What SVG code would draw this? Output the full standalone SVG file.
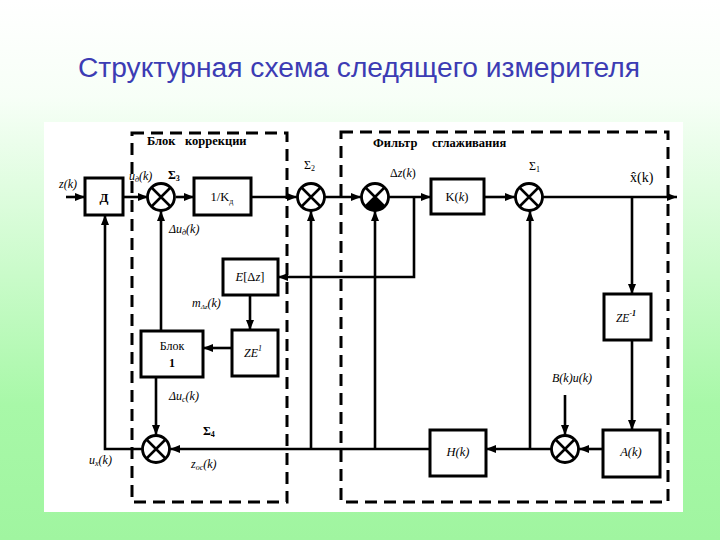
<svg xmlns="http://www.w3.org/2000/svg" xmlns:xlink="http://www.w3.org/1999/xlink" width="720" height="540" viewBox="0 0 720 540">
<defs>
<linearGradient id="bg" x1="0" y1="0" x2="0" y2="1">
<stop offset="0" stop-color="#ffffff"/>
<stop offset="0.18" stop-color="#f7fff7"/>
<stop offset="0.75" stop-color="#a8f8a8"/>
<stop offset="1" stop-color="#a0f5a0"/>
</linearGradient>
<marker id="ar" markerUnits="userSpaceOnUse" markerWidth="10" markerHeight="8" refX="10" refY="4" orient="auto">
<path d="M0,0 L10,4 L0,8 Z" fill="#000"/>
</marker>
<g id="sum">
<circle r="13.5" fill="#fff" stroke="#000" stroke-width="2.8"/>
<path d="M-9.5,-9.5 L9.5,9.5 M-9.5,9.5 L9.5,-9.5" stroke="#000" stroke-width="2.5"/>
</g>
<style>
.box{fill:#fff;stroke:#000;stroke-width:3}
.dash{fill:none;stroke:#000;stroke-width:3;stroke-dasharray:12 7}
.arr{fill:none;stroke:#000;stroke-width:2.6;marker-end:url(#ar)}
.lbl{font-family:"Liberation Serif",serif;font-style:italic;font-size:12px;fill:#000}
.bt{font-family:"Liberation Serif",serif;font-size:12.5px;fill:#000;text-anchor:middle}
.hd{font-family:"Liberation Serif",serif;font-weight:bold;font-size:12.5px;fill:#000}
.sg{font-family:"Liberation Serif",serif;font-size:12px;fill:#000}
.title{font-family:"Liberation Sans",Arial,sans-serif;font-size:27px;fill:#3c3cb4}
</style>
</defs>
<rect x="0" y="0" width="720" height="540" fill="url(#bg)"/>
<rect x="44" y="122" width="639" height="390" fill="#fff"/>
<text class="title" x="78" y="77" textLength="562" lengthAdjust="spacingAndGlyphs">Структурная схема следящего измерителя</text>

<g id="regions">
<rect class="dash" x="132" y="133" width="155" height="369"/>
<rect class="dash" x="341" y="132" width="327" height="370"/>
<text class="hd" y="145"><tspan x="147">Блок</tspan><tspan x="185">коррекции</tspan></text>
<text class="hd" y="147"><tspan x="373">Фильтр</tspan><tspan x="432">сглаживания</tspan></text>
</g>

<g id="connectors">
<line class="arr" x1="66" y1="197" x2="85" y2="197"/>
<line class="arr" x1="123" y1="197" x2="148" y2="197"/>
<line class="arr" x1="176" y1="197" x2="194" y2="197"/>
<line class="arr" x1="251" y1="197" x2="297" y2="197"/>
<line class="arr" x1="325" y1="197" x2="361" y2="197"/>
<line class="arr" x1="389" y1="197" x2="431" y2="197"/>
<line class="arr" x1="484" y1="197" x2="515" y2="197"/>
<line class="arr" x1="543" y1="197" x2="677" y2="197"/>
<line class="arr" x1="632" y1="197" x2="632" y2="294"/>
<line class="arr" x1="632" y1="340" x2="632" y2="430"/>
<line class="arr" x1="603" y1="449" x2="579" y2="449"/>
<line class="arr" x1="565" y1="395" x2="565" y2="435"/>
<line class="arr" x1="551" y1="449" x2="486" y2="449"/>
<line class="arr" x1="530" y1="449" x2="530" y2="211"/>
<line class="arr" x1="430" y1="449" x2="170" y2="449"/>
<line class="arr" x1="375" y1="449" x2="375" y2="211"/>
<line class="arr" x1="311" y1="449" x2="311" y2="211"/>
<polyline class="arr" points="414,197 414,277 278,277"/>
<line class="arr" x1="250" y1="295" x2="250" y2="330"/>
<line class="arr" x1="232" y1="348" x2="203" y2="348"/>
<line class="arr" x1="161" y1="331" x2="161" y2="211"/>
<line class="arr" x1="156" y1="377" x2="156" y2="435"/>
<polyline class="arr" points="142,449 105,449 105,215"/>
</g>

<g id="D"><rect class="box" x="85" y="178" width="38" height="37"/><text class="bt" x="104" y="202" style="font-weight:bold;font-size:13px">Д</text></g>
<g id="S3"><use xlink:href="#sum" x="161" y="197"/></g>
<g id="invK"><rect class="box" x="194" y="178" width="57" height="37"/><text class="bt" x="222" y="201">1/K<tspan font-size="8" dy="3">д</tspan></text></g>
<g id="S2"><use xlink:href="#sum" x="311" y="197"/></g>
<g id="Sf"><use xlink:href="#sum" x="375" y="197"/><path d="M375,197 L365.5,206.5 A13.5,13.5 0 0 0 384.5,206.5 Z" fill="#000"/></g>
<g id="K"><rect class="box" x="431" y="179" width="53" height="35"/><text class="bt" x="457" y="201">K(<tspan font-style="italic">k</tspan>)</text></g>
<g id="S1"><use xlink:href="#sum" x="529" y="197"/></g>
<g id="ZE2"><rect class="box" x="604" y="294" width="47" height="46"/><text class="bt" x="626" y="322" style="font-style:italic;font-size:11.5px">ZE<tspan font-size="8" dy="-6" font-weight="bold">-1</tspan></text></g>
<g id="A"><rect class="box" x="603" y="430" width="57" height="47"/><text class="bt" x="631" y="456" style="font-style:italic">A(k)</text></g>
<g id="S5"><use xlink:href="#sum" x="565" y="449"/></g>
<g id="H"><rect class="box" x="430" y="430" width="56" height="46"/><text class="bt" x="458" y="456" style="font-style:italic">H(k)</text></g>
<g id="S4"><use xlink:href="#sum" x="156" y="449"/></g>
<g id="E"><rect class="box" x="223" y="259" width="55" height="36"/><text class="bt" x="250" y="281"><tspan font-style="italic">E</tspan>[Δ<tspan font-style="italic">z</tspan>]</text></g>
<g id="ZE1"><rect class="box" x="232" y="330" width="46" height="46"/><text class="bt" x="253" y="357" style="font-style:italic;font-size:12px">ZE<tspan font-size="8" dy="-6">1</tspan></text></g>
<g id="B1"><rect class="box" x="141" y="331" width="62" height="46"/><text class="bt" x="172" y="350" style="font-size:12px">Блок</text><text class="bt" x="172" y="367" style="font-size:12px;font-weight:bold">1</text></g>

<g id="labels">
<text class="lbl" x="59" y="188">z(k)</text>
<text class="lbl" x="129" y="180">u<tspan font-size="8" dy="2">д</tspan><tspan dy="-2">(k)</tspan></text>
<text class="sg" x="168" y="179" style="font-weight:bold">Σ<tspan font-size="8" dy="2">3</tspan></text>
<text class="lbl" x="169" y="233">Δu<tspan font-size="8" dy="2">д</tspan><tspan dy="-2">(k)</tspan></text>
<text class="sg" x="304" y="169">Σ<tspan font-size="8" dy="2">2</tspan></text>
<text class="lbl" x="390" y="177" style="font-style:normal">Δ<tspan font-style="italic">z</tspan>(<tspan font-style="italic">k</tspan>)</text>
<text class="sg" x="529" y="170">Σ<tspan font-size="8" dy="2">1</tspan></text>
<text class="sg" x="630" y="182" style="font-size:14px">x̂(k)</text>
<text class="lbl" x="192" y="307">m<tspan font-size="7" dy="2">Δz</tspan><tspan dy="-2">(k)</tspan></text>
<text class="lbl" x="169" y="400">Δu<tspan font-size="8" dy="2">с</tspan><tspan dy="-2">(k)</tspan></text>
<text class="sg" x="203" y="435" style="font-weight:bold">Σ<tspan font-size="8" dy="2">4</tspan></text>
<text class="lbl" x="89" y="464">u<tspan font-size="8" dy="2">х</tspan><tspan dy="-2">(k)</tspan></text>
<text class="lbl" x="191" y="468">z<tspan font-size="8" dy="2">ос</tspan><tspan dy="-2">(k)</tspan></text>
<text class="lbl" x="552" y="382">B(k)u(k)</text>
</g>
</svg>
